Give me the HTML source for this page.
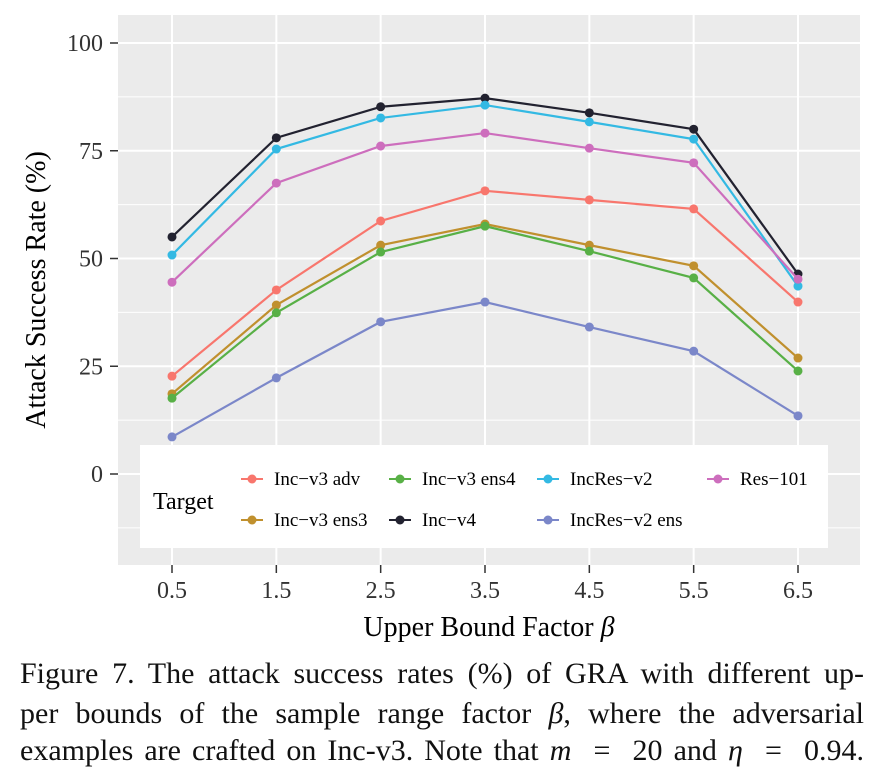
<!DOCTYPE html>
<html><head><meta charset="utf-8"><style>
body{margin:0;background:#fff;width:885px;height:776px;overflow:hidden;font-family:"Liberation Serif",serif;}
svg{display:block}
.cap{position:absolute;left:20px;width:844px;font-size:30px;line-height:34px;color:#111;text-align:justify;text-align-last:justify;white-space:nowrap;}
</style></head><body>
<svg id="chart" width="885" height="650"></svg>
<div>
<div class="cap" style="top:657px">Figure 7. The attack success rates (%) of GRA with different up-</div>
<div class="cap" style="top:697px">per bounds of the sample range factor <i>β</i>, where the adversarial</div>
<div class="cap" style="top:734px">examples are crafted on Inc-v3. Note that <i>m</i> &nbsp;=&nbsp; 20 and <i>η</i> &nbsp;=&nbsp; 0.94.</div>
</div>
<script>
const categories=[0.5,1.5,2.5,3.5,4.5,5.5,6.5];
const seriesNames=["Inc−v3 adv","Inc−v3 ens3","Inc−v3 ens4","Inc−v4","IncRes−v2","IncRes−v2 ens","Res−101"];
const incv3adv=[22.7,42.7,58.7,65.7,63.6,61.5,39.9];
const incv3ens3=[18.6,39.2,53.1,58.0,53.1,48.3,26.9];
const incv3ens4=[17.6,37.4,51.5,57.5,51.7,45.5,23.9];
const incv4=[55.0,78.0,85.2,87.2,83.8,80.0,46.4];
const incresv2=[50.8,75.4,82.6,85.6,81.7,77.7,43.6];
const incresv2ens=[8.6,22.3,35.3,39.9,34.1,28.5,13.5];
const res101=[44.5,67.5,76.1,79.1,75.6,72.2,45.2];
const yTicks=[0,25,50,75,100];
const colors=["#F8766D","#C0902E","#58B046","#222230","#33B9E3","#7B87C9","#CD6EBD"];
const series=[incv3adv,incv3ens3,incv3ens4,incv4,incresv2,incresv2ens,res101];

const NS="http://www.w3.org/2000/svg";
const svg=document.getElementById('chart');
function el(t,a,p){const e=document.createElementNS(NS,t);for(const k in a)e.setAttribute(k,a[k]);(p||svg).appendChild(e);return e;}
const L=118,R=860,T=15,B=565;
const x=v=>172+(v-0.5)*(798-172)/6;
const y=v=>474-v*4.31;
const bg=el('rect',{x:L,y:T,width:R-L,height:B-T,fill:'#EBEBEB'});


for(let v=-12.5;v<=112.5;v+=12.5){const yy=y(v);if(yy<T||yy>B)continue;
 const major=yTicks.includes(v);
 const g=el('line',{x1:L,x2:R,y1:yy,y2:yy,stroke:'#fff','stroke-width':major?2:1});
 
 }
categories.forEach(c=>{const g=el('line',{x1:x(c),x2:x(c),y1:T,y2:B,stroke:'#fff','stroke-width':2});
 
 });
yTicks.forEach(v=>{const t=el('text',{x:103,y:y(v)+8,'text-anchor':'end','font-size':24,fill:'#333'});t.textContent=v;
 
 
 el('line',{x1:110,x2:118,y1:y(v),y2:y(v),stroke:'#333','stroke-width':1.5});});
categories.forEach(c=>{const t=el('text',{x:x(c),y:598,'text-anchor':'middle','font-size':24,fill:'#333'});t.textContent=c.toFixed(1);
 
 
 el('line',{x1:x(c),x2:x(c),y1:565,y2:573,stroke:'#333','stroke-width':1.5});});
const yt=el('text',{transform:'translate(45,290) rotate(-90)','text-anchor':'middle','font-size':28,fill:'#000'});yt.textContent='Attack Success Rate (%)';


const xt=el('text',{x:489,y:636,'text-anchor':'middle','font-size':28,fill:'#000'});xt.innerHTML='Upper Bound Factor <tspan font-style="italic">β</tspan>';


series.forEach((s,i)=>{
 const p=el('polyline',{points:s.map((v,j)=>x(categories[j])+','+y(v)).join(' '),fill:'none',stroke:colors[i],'stroke-width':2.2});
 
 
 s.forEach((v,j)=>{const c=el('circle',{cx:x(categories[j]),cy:y(v),r:4.5,fill:colors[i]});
  
  });
});
const lg=el('g',{});


el('rect',{x:140,y:445,width:688,height:103,fill:'#fff'},lg);
const lt=el('text',{x:153,y:509,'font-size':24,fill:'#000'},lg);lt.textContent='Target';
const pos=[[252,479],[252,520],[400,479],[400,520],[548,479],[548,520],[718,479]];
seriesNames.forEach((n,i)=>{const [px,py]=pos[i];
 const g=el('g',{},lg);
 
 
 el('line',{x1:px-11,x2:px+11,y1:py,y2:py,stroke:colors[i],'stroke-width':2},g);
 el('circle',{cx:px,cy:py,r:4.5,fill:colors[i]},g);
 const t=el('text',{x:px+22,y:py+6,'font-size':19,fill:'#000'},g);t.textContent=n;});
</script>
</body></html>
